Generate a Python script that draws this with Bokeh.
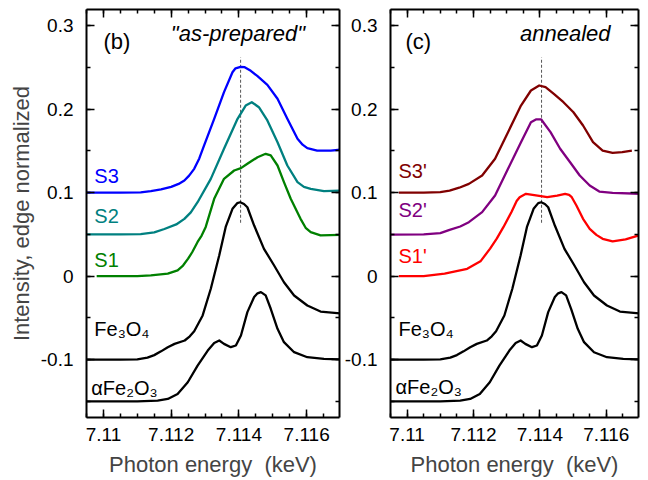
from bokeh.plotting import figure
from bokeh.layouts import row
from bokeh.models import (Range1d, LinearAxis, SingleIntervalTicker,
                          CustomJSTickFormatter, Label)
from bokeh.embed import file_html
from bokeh.resources import INLINE

# ---------------- data ----------------
# shared reference spectra (offset: Fe3O4 -0.1, alpha-Fe2O3 -0.15)
E_FE3O4 = [7.1095, 7.1105, 7.1110, 7.1113, 7.1115, 7.1117, 7.1119, 7.1121, 7.1124, 7.11255,
           7.11268, 7.11293, 7.11317, 7.11342, 7.11361, 7.11381, 7.11395, 7.11404, 7.11415,
           7.11425, 7.11445, 7.11474, 7.11504, 7.11533, 7.11563, 7.11602, 7.11641, 7.1170]
I_FE3O4 = [-0.100, -0.100, -0.0995, -0.0975, -0.0945, -0.090, -0.085, -0.081, -0.077, -0.072,
           -0.066, -0.047, -0.015, 0.025, 0.059, 0.0807, 0.0875, 0.0886, 0.0865,
           0.0826, 0.0607, 0.0328, 0.0128, -0.0072, -0.0231, -0.0351, -0.0423, -0.0445]

E_FE2O3 = [7.1095, 7.1110, 7.1116, 7.1119, 7.11219, 7.11249, 7.11278, 7.11308, 7.11327,
           7.11342, 7.11356, 7.11376, 7.11391, 7.11406, 7.11425, 7.11445, 7.11455, 7.11465,
           7.11479, 7.11494, 7.11514, 7.11533, 7.11563, 7.11602, 7.11651, 7.1170]
I_FE2O3 = [-0.150, -0.150, -0.149, -0.147, -0.141, -0.127, -0.107, -0.089, -0.080,
           -0.077, -0.081, -0.085, -0.083, -0.071, -0.043, -0.025, -0.0205, -0.019,
           -0.023, -0.039, -0.063, -0.079, -0.091, -0.097, -0.099, -0.0995]

# "as-prepared" samples
E_S1 = [7.1098, 7.1110, 7.1114, 7.1119, 7.11219, 7.11235, 7.1125, 7.11262, 7.11278,
        7.11290, 7.11302, 7.11327, 7.11356, 7.11386, 7.11406, 7.11425, 7.11455,
        7.11479, 7.11494, 7.11514, 7.11533, 7.11553, 7.11582, 7.11597, 7.11612,
        7.11641, 7.1170]
I_S1 = [0.000, 0.000, 0.001, 0.003, 0.007, 0.0128, 0.021, 0.0287, 0.041,
        0.0487, 0.059, 0.0927, 0.1166, 0.1266, 0.1294, 0.1346, 0.1425,
        0.1466, 0.1446, 0.1326, 0.1126, 0.0927, 0.0687, 0.058, 0.0527,
        0.0490, 0.0496]

E_S2 = [7.1095, 7.1105, 7.1111, 7.1115, 7.1118, 7.11215, 7.11239, 7.11258, 7.11278,
        7.11317, 7.11356, 7.11396, 7.1142, 7.11438, 7.11459, 7.11484, 7.11514,
        7.11543, 7.11573, 7.11592, 7.11612, 7.11651, 7.1170]
I_S2 = [0.050, 0.050, 0.0505, 0.0525, 0.0565, 0.062, 0.0687, 0.0765, 0.0886,
        0.1166, 0.1526, 0.1885, 0.2044, 0.2084, 0.2024, 0.1865, 0.1605,
        0.1326, 0.1126, 0.1070, 0.1047, 0.1018, 0.1025]

E_S3 = [7.1095, 7.1105, 7.1111, 7.1114, 7.1117, 7.1120, 7.11222, 7.11239, 7.11253, 7.11268,
        7.11283, 7.11297, 7.11327, 7.11356, 7.11381, 7.11390, 7.11405, 7.11417, 7.11435,
        7.11455, 7.11484, 7.11514, 7.11543, 7.11573, 7.11588, 7.11602, 7.11631, 7.11671,
        7.1170]
I_S3 = [0.100, 0.100, 0.1005, 0.1020, 0.1040, 0.1070, 0.1105, 0.1146, 0.1205, 0.1286,
        0.1410, 0.1565, 0.1885, 0.2204, 0.2443, 0.2490, 0.2508, 0.2503, 0.2460,
        0.2395, 0.2292, 0.2125, 0.1885, 0.1646, 0.1575, 0.1533, 0.1505, 0.1505,
        0.1515]

# annealed samples
E_S1P = [7.10975, 7.1105, 7.11113, 7.11181, 7.11221, 7.1125, 7.1127, 7.1129, 7.11314,
         7.11330, 7.11339, 7.11358, 7.11393, 7.11422, 7.11452, 7.11476, 7.11488, 7.11496,
         7.11510, 7.11530, 7.11550, 7.11570, 7.11589, 7.11619, 7.11658, 7.11696]
I_S1P = [0.000, 0.000, 0.003, 0.0088, 0.0178, 0.033, 0.045, 0.0587, 0.0767,
         0.0900, 0.0946, 0.0987, 0.0966, 0.0946, 0.0966, 0.0987, 0.0975, 0.0946,
         0.0847, 0.0687, 0.0568, 0.0495, 0.0448, 0.0416, 0.044, 0.0487]

E_S2P = [7.1095, 7.1105, 7.1110, 7.11128, 7.11160, 7.11186, 7.11226, 7.11265, 7.11304,
         7.11343, 7.11373, 7.11388, 7.11404, 7.11432, 7.11461, 7.11491, 7.11520, 7.11550,
         7.11579, 7.11619, 7.1170]
I_S2P = [0.0497, 0.050, 0.0515, 0.0555, 0.0595, 0.0647, 0.0767, 0.0966, 0.1286,
         0.1605, 0.1844, 0.1877, 0.1877, 0.1725, 0.1526, 0.1365, 0.1206, 0.1086,
         0.1014, 0.0999, 0.0987]

E_S3P = [7.10975, 7.1105, 7.1110, 7.11128, 7.11157, 7.11186, 7.11226, 7.11265, 7.11304,
         7.11343, 7.11373, 7.11398, 7.11417, 7.11442, 7.11471, 7.11501, 7.11530,
         7.11560, 7.11589, 7.11619, 7.11648, 7.11677]
I_S3P = [0.100, 0.100, 0.1008, 0.1026, 0.106, 0.1106, 0.1206, 0.1406, 0.1725,
         0.2044, 0.2224, 0.2284, 0.2264, 0.2184, 0.2084, 0.1964, 0.1805,
         0.1605, 0.1505, 0.1478, 0.1485, 0.1505]

E_PEAK = 7.11405          # dashed marker position (keV)
DASH_RANGE = [0.064, 0.262]

X_RANGE = (7.1095, 7.11697)
Y_RANGE = (-0.1692, 0.3194)

FONT = "Liberation Sans"
BLUE, TEAL, GREEN = "#0000ff", "#008080", "#008000"
DKRED, PURPLE, RED = "#800000", "#800080", "#ff0000"


def style_axis(ax, ticker, labels=True, fmt_digits=4):
    ax.ticker = ticker
    ax.axis_line_width = 2
    ax.axis_line_color = "black"
    ax.major_tick_in = 8
    ax.major_tick_out = 0
    ax.minor_tick_in = 4
    ax.minor_tick_out = 0
    ax.major_tick_line_width = 1.5
    ax.minor_tick_line_width = 1.5
    ax.major_tick_line_color = "black"
    ax.minor_tick_line_color = "black"
    if labels:
        ax.formatter = CustomJSTickFormatter(
            code="return (+tick.toFixed(%d)).toString();" % fmt_digits)
        ax.major_label_text_font = FONT
        ax.major_label_text_font_size = "19px"
        ax.major_label_text_color = "black"
    else:
        ax.formatter = CustomJSTickFormatter(code="return '';")
        ax.major_label_text_font_size = "0px"
        ax.major_label_standoff = 0


def make_panel(width, bl, br, ylabel):
    p = figure(width=width, height=480, output_backend="svg", toolbar_location=None,
               x_range=Range1d(*X_RANGE), y_range=Range1d(*Y_RANGE),
               min_border_left=bl, min_border_right=br, min_border_top=9,
               min_border_bottom=63, x_axis_type=None, y_axis_type=None)
    p.outline_line_color = None
    p.background_fill_color = "white"
    p.border_fill_color = "white"

    xb = LinearAxis()
    style_axis(xb, SingleIntervalTicker(interval=0.002, num_minor_ticks=4))
    xb.major_label_standoff = 10
    xb.axis_label = "Photon energy\u00a0\u00a0(keV)"
    xb.axis_label_text_font = FONT
    xb.axis_label_text_font_size = "22px"
    xb.axis_label_text_font_style = "normal"
    xb.axis_label_standoff = 8
    p.add_layout(xb, "below")

    xt = LinearAxis()
    style_axis(xt, SingleIntervalTicker(interval=0.002, num_minor_ticks=4), labels=False)
    p.add_layout(xt, "above")

    yl = LinearAxis()
    style_axis(yl, SingleIntervalTicker(interval=0.1, num_minor_ticks=2), fmt_digits=3)
    yl.major_label_standoff = 13
    if ylabel:
        yl.axis_label = ylabel
        yl.axis_label_text_font = FONT
        yl.axis_label_text_font_size = "22px"
        yl.axis_label_text_font_style = "normal"
        yl.axis_label_standoff = 4
    p.add_layout(yl, "left")

    yr = LinearAxis()
    style_axis(yr, SingleIntervalTicker(interval=0.1, num_minor_ticks=2), labels=False)
    p.add_layout(yr, "right")

    # dashed marker
    p.segment(x0=[E_PEAK], y0=[DASH_RANGE[0]], x1=[E_PEAK], y1=[DASH_RANGE[1]],
              line_color="#555555", line_width=1, line_dash="3 2")
    return p


def add_label(p, x, y, text, color="black", size="20px", style="normal"):
    p.add_layout(Label(x=x, y=y, text=text, text_font=FONT, text_font_size=size,
                       text_color=color, text_baseline="middle", text_align="left",
                       text_font_style=style))


LW = 2.3

# ---------------- panel (b) ----------------
p1 = make_panel(341, 86, 2, "Intensity, edge normalized")
p1.line(E_FE2O3, I_FE2O3, line_color="black", line_width=LW, line_join="round")
p1.line(E_FE3O4, I_FE3O4, line_color="black", line_width=LW, line_join="round")
p1.line(E_S1, I_S1, line_color=GREEN, line_width=LW, line_join="round")
p1.line(E_S2, I_S2, line_color=TEAL, line_width=LW, line_join="round")
p1.line(E_S3, I_S3, line_color=BLUE, line_width=LW, line_join="round")

add_label(p1, 7.1100, 0.281, "(b)", size="22px")
add_label(p1, 7.11199, 0.2907, "\"as-prepared\"", size="22px", style="italic")
add_label(p1, 7.10973, 0.1206, "S3", BLUE)
add_label(p1, 7.10973, 0.0727, "S2", TEAL)
add_label(p1, 7.10973, 0.0194, "S1", GREEN)
add_label(p1, 7.10973, -0.0632, "Fe\u2083O\u2084")
add_label(p1, 7.10964, -0.1339, "\u03b1Fe\u2082O\u2083")

# ---------------- panel (c) ----------------
p2 = make_panel(307, 43, 10, None)
p2.line(E_FE2O3, I_FE2O3, line_color="black", line_width=LW, line_join="round")
p2.line(E_FE3O4, I_FE3O4, line_color="black", line_width=LW, line_join="round")
p2.line(E_S1P, I_S1P, line_color=RED, line_width=LW, line_join="round")
p2.line(E_S2P, I_S2P, line_color=PURPLE, line_width=LW, line_join="round")
p2.line(E_S3P, I_S3P, line_color=DKRED, line_width=LW, line_join="round")

add_label(p2, 7.10995, 0.281, "(c)", size="22px")
add_label(p2, 7.11340, 0.2907, "annealed", size="22px", style="italic")
add_label(p2, 7.10974, 0.126, "S3'", DKRED)
add_label(p2, 7.10974, 0.0787, "S2'", PURPLE)
add_label(p2, 7.10974, 0.0248, "S1'", RED)
add_label(p2, 7.10974, -0.0638, "Fe\u2083O\u2084")
add_label(p2, 7.10965, -0.1327, "\u03b1Fe\u2082O\u2083")

layout = row(p1, p2)
open("out.html", "w").write(file_html(layout, INLINE))
